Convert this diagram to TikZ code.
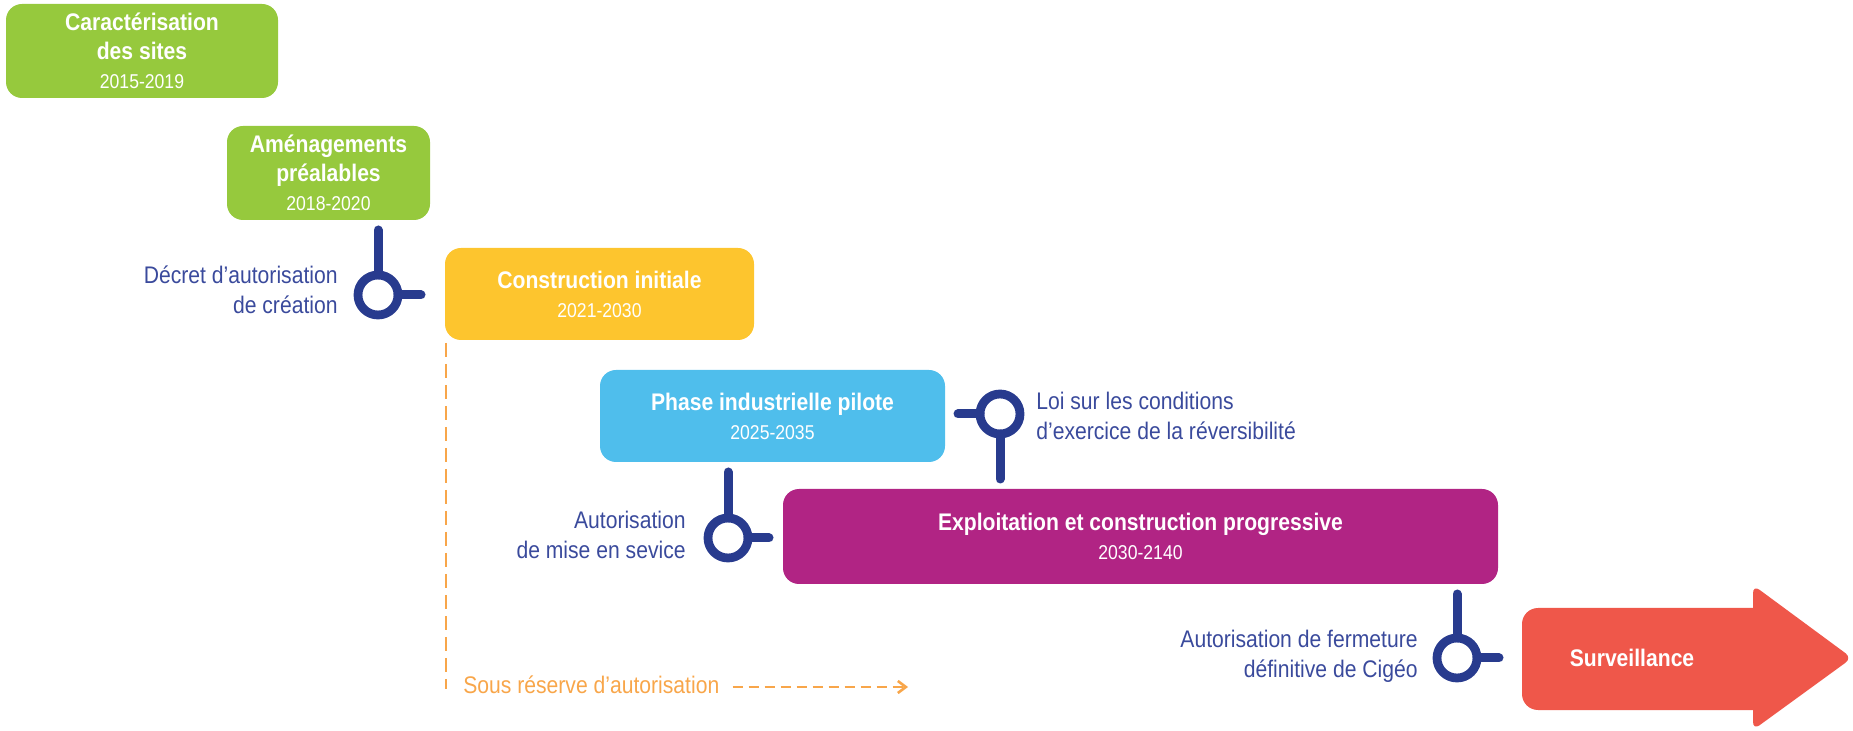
\documentclass[tikz,border=0pt]{standalone}
\usepackage{fontspec}
\setmainfont{Liberation Sans}[FakeStretch=0.88]
\usetikzlibrary{arrows.meta}
\definecolor{cgreen}{HTML}{96C93D}
\definecolor{cyellow}{HTML}{FDC52E}
\definecolor{cblue}{HTML}{4FBEEC}
\definecolor{cpurple}{HTML}{B12484}
\definecolor{cred}{HTML}{EF574A}
\definecolor{cnavy}{HTML}{283B8E}
\definecolor{clabel}{HTML}{3A4A9C}
\definecolor{corange}{HTML}{F8A64A}
\newcommand{\yr}[1]{{\fontsize{10}{12}\selectfont\mdseries #1}}
\begin{document}
\begin{tikzpicture}[x=0.5pt,y=-0.5pt,
  phase/.style={fill=#1, draw=none, rounded corners=8pt, text=white, align=center,
    inner sep=0pt, font=\fontsize{12}{14.5}\selectfont\bfseries},
  ring/.style={circle, draw=cnavy, line width=4.4pt, minimum size=20pt, inner sep=0pt, outer sep=0pt},
  keyline/.style={draw=cnavy, line width=4.5pt, line cap=round},
  lab/.style={text=clabel, inner sep=0pt, font=\fontsize{12}{14.8}\selectfont},
  odash/.style={draw=corange, line width=1.3pt},
]
\useasboundingbox (0,0) rectangle (1853,731);

% phase boxes
\node[phase=cgreen, minimum width=136pt, minimum height=47pt] (b1) at (142,51)
  {Caractérisation\\des sites\\\yr{2015-2019}};
\node[phase=cgreen, minimum width=101.5pt, minimum height=47pt] (b2) at (328.5,173)
  {Aménagements\\préalables\\\yr{2018-2020}};
\node[phase=cyellow, minimum width=154.5pt, minimum height=46pt] (b3) at (599.5,294)
  {Construction initiale\\\yr{2021-2030}};
\node[phase=cblue, minimum width=172.5pt, minimum height=46pt] (b4) at (772.5,416)
  {Phase industrielle pilote\\\yr{2025-2035}};
\node[phase=cpurple, minimum width=357.5pt, minimum height=47.5pt] (b5) at (1140.5,536.5)
  {Exploitation et construction progressive\\\yr{2030-2140}};

% surveillance arrow
\fill[cred] (1600,608) [rounded corners=8pt] -- (1522,608) -- (1522,710) -- (1600,710)
  [rounded corners=0pt] -- (1753,710) [rounded corners=4pt] -- (1753,730) -- (1852,658)
  -- (1753,585) [rounded corners=0pt] -- (1753,608) -- cycle;
\node[text=white, font=\fontsize{12}{14}\selectfont\bfseries, inner sep=0pt] (surv) at (1632,658) {Surveillance};

% milestones
\node[ring] (m1) at (378,295) {};
\coordinate (m1t) at (378,230);
\coordinate (m1s) at (421,295);
\draw[keyline] (m1.north) -- (m1t);
\draw[keyline] (m1.east) -- (m1s);
\node[lab, anchor=east, align=right] (l1) at (338,290) {Décret d’autorisation\\de création};

\node[ring] (m2) at (1000,414) {};
\coordinate (m2b) at (1000,479);
\coordinate (m2s) at (958,414);
\draw[keyline] (m2.south) -- (m2b);
\draw[keyline] (m2.west) -- (m2s);
\node[lab, anchor=west, align=left] (l2) at (1036,416) {Loi sur les conditions\\d’exercice de la réversibilité};

\node[ring] (m3) at (728,538) {};
\coordinate (m3t) at (728,472);
\coordinate (m3s) at (769,538);
\draw[keyline] (m3.north) -- (m3t);
\draw[keyline] (m3.east) -- (m3s);
\node[lab, anchor=east, align=right] (l3) at (686,535) {Autorisation\\de mise en sevice};

\node[ring] (m4) at (1457,658) {};
\coordinate (m4t) at (1457,594);
\coordinate (m4s) at (1499,658);
\draw[keyline] (m4.north) -- (m4t);
\draw[keyline] (m4.east) -- (m4s);
\node[lab, anchor=east, align=right] (l4) at (1418,656) {Autorisation de fermeture\\définitive de Cigéo};

% sous reserve
\coordinate (dtop) at (446,343);
\coordinate (dbot) at (446,689);
\draw[odash, dash pattern=on 7pt off 3.5pt] (dtop) -- (dbot);
\node[text=corange, inner sep=0pt, anchor=west, font=\fontsize{12}{14}\selectfont] (sous) at (463,685) {Sous réserve d’autorisation};
\coordinate (oend) at (908,687);
\draw[odash, dash pattern=on 5pt off 3pt, -{Straight Barb[length=4pt,width=6pt]}] ([xshift=6.5pt]sous.east |- oend) -- (oend);
\end{tikzpicture}
\end{document}
